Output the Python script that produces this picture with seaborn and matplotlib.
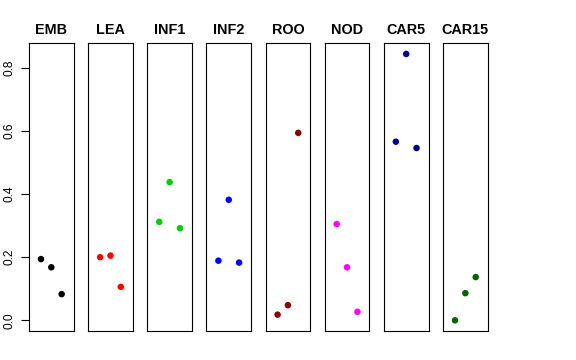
import numpy as np
import pandas as pd
import matplotlib
matplotlib.use("Agg")
import matplotlib.pyplot as plt
import seaborn as sns

# ---------------------------
# data
# ---------------------------
tissues = ["EMB", "LEA", "INF1", "INF2", "ROO", "NOD", "CAR5", "CAR15"]
colors = ["black", "red", "#00CD00", "blue", "#8B0000", "magenta", "#00008B", "#006400"]

rep = [1, 2, 3]  # replicate position inside each panel
emb = [0.194, 0.168, 0.083]
lea = [0.200, 0.205, 0.106]
inf1 = [0.312, 0.438, 0.292]
inf2 = [0.189, 0.382, 0.183]
roo = [0.018, 0.048, 0.594]
nod = [0.305, 0.168, 0.027]
car5 = [0.566, 0.844, 0.546]
car15 = [0.000, 0.086, 0.137]

values = [emb, lea, inf1, inf2, roo, nod, car5, car15]

rows = []
for t, v in zip(tissues, values):
    for r, y in zip(rep, v):
        rows.append({"tissue": t, "rep": r, "value": y})
df = pd.DataFrame(rows)

# ---------------------------
# plot
# ---------------------------
sns.set_style("white")
plt.rcParams["font.family"] = ["Liberation Sans", "DejaVu Sans"]
plt.rcParams["text.color"] = "black"
plt.rcParams["ytick.color"] = "black"
plt.rcParams["ytick.labelcolor"] = "black"

fig, axes = plt.subplots(1, 8, figsize=(5.76, 3.6), dpi=100, sharey=True)
fig.subplots_adjust(left=0.0503, right=0.8467, top=0.8797, bottom=0.0806, wspace=0.324)

ymin, ymax = df["value"].min(), df["value"].max()
pad = (ymax - ymin) * 0.04

for i, (ax, t, c) in enumerate(zip(axes, tissues, colors)):
    sub = df[df["tissue"] == t]
    sns.scatterplot(ax=ax, data=sub, x="rep", y="value", color=c, s=22,
                    edgecolor="none", legend=False)
    ax.set_xlim(-0.16, 4.16)
    ax.set_ylim(ymin - pad, ymax + pad)
    ax.set_title(t, fontsize=10.4, fontweight="bold", pad=7, color="black")
    ax.set_xlabel("")
    ax.set_ylabel("")
    ax.set_xticks([])
    for sp in ax.spines.values():
        sp.set_visible(True)
        sp.set_color("black")
        sp.set_linewidth(0.8)
    if i == 0:
        ax.set_yticks([0.0, 0.2, 0.4, 0.6, 0.8])
        ax.set_yticklabels(["0.0", "0.2", "0.4", "0.6", "0.8"], rotation=90, va="center")
        ax.tick_params(axis="y", left=True, length=6, width=0.8, pad=4,
                       labelsize=8.6, color="black", labelcolor="black")
    else:
        ax.tick_params(axis="y", left=False, labelleft=False)

plt.savefig("out.png", dpi=100)
